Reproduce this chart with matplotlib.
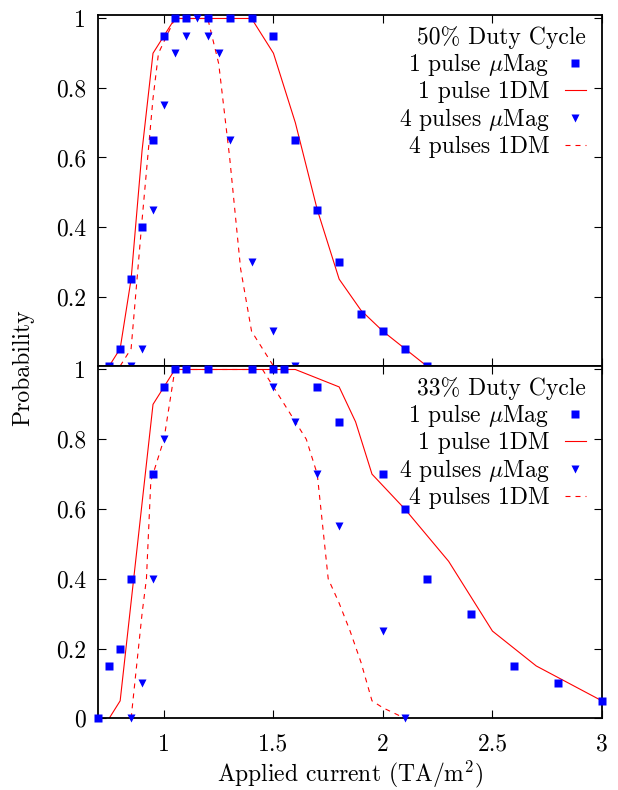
import matplotlib
matplotlib.use("Agg")
import matplotlib.pyplot as plt
from matplotlib.ticker import FuncFormatter, MultipleLocator

plt.rcParams['font.family'] = 'serif'
plt.rcParams['font.serif'] = ['cmr10']
plt.rcParams['mathtext.fontset'] = 'cm'
plt.rcParams['axes.formatter.use_mathtext'] = True

# 50% duty cycle
top_sq_x = [0.75, 0.80, 0.85, 0.90, 0.95, 1.00, 1.05, 1.10, 1.20, 1.30, 1.40, 1.50, 1.60, 1.70, 1.80, 1.90, 2.00, 2.10, 2.20]
top_sq_y = [0.00, 0.05, 0.25, 0.40, 0.65, 0.95, 1.00, 1.00, 1.00, 1.00, 1.00, 0.95, 0.65, 0.45, 0.30, 0.15, 0.10, 0.05, 0.00]
top_line_x = [0.75, 0.80, 0.85, 0.90, 0.95, 1.05, 1.40, 1.50, 1.60, 1.70, 1.80, 1.90, 2.00, 2.10, 2.20]
top_line_y = [0.00, 0.05, 0.25, 0.62, 0.90, 1.00, 1.00, 0.90, 0.70, 0.45, 0.25, 0.16, 0.10, 0.05, 0.00]
top_tri_x = [0.85, 0.90, 0.95, 1.00, 1.05, 1.10, 1.15, 1.20, 1.25, 1.30, 1.40, 1.50, 1.60]
top_tri_y = [0.00, 0.05, 0.45, 0.75, 0.90, 0.95, 1.00, 0.95, 0.90, 0.65, 0.30, 0.10, 0.00]
top_dash_x = [0.80, 0.85, 0.90, 0.95, 0.975, 1.05, 1.20, 1.25, 1.30, 1.35, 1.40, 1.45, 1.50]
top_dash_y = [0.00, 0.05, 0.42, 0.77, 0.90, 1.00, 1.00, 0.87, 0.60, 0.28, 0.10, 0.05, 0.00]

# 33% duty cycle
bot_sq_x = [0.70, 0.75, 0.80, 0.85, 0.95, 1.00, 1.05, 1.10, 1.20, 1.40, 1.50, 1.55, 1.70, 1.80, 2.00, 2.10, 2.20, 2.40, 2.60, 2.80, 3.00]
bot_sq_y = [0.00, 0.15, 0.20, 0.40, 0.70, 0.95, 1.00, 1.00, 1.00, 1.00, 1.00, 1.00, 0.95, 0.85, 0.70, 0.60, 0.40, 0.30, 0.15, 0.10, 0.05]
bot_line_x = [0.75, 0.80, 0.95, 1.05, 1.60, 1.80, 1.875, 1.95, 2.10, 2.30, 2.50, 2.70, 3.00]
bot_line_y = [0.00, 0.05, 0.90, 1.00, 1.00, 0.95, 0.85, 0.70, 0.60, 0.45, 0.25, 0.15, 0.05]
bot_tri_x = [0.85, 0.90, 0.95, 1.00, 1.50, 1.60, 1.70, 1.80, 2.00, 2.10]
bot_tri_y = [0.00, 0.10, 0.40, 0.80, 0.95, 0.85, 0.70, 0.55, 0.25, 0.00]
bot_dash_x = [0.85, 0.90, 0.92, 0.94, 1.00, 1.05, 1.45, 1.50, 1.60, 1.65, 1.70, 1.75, 1.80, 1.85, 1.90, 1.95, 2.00, 2.10]
bot_dash_y = [0.00, 0.30, 0.40, 0.68, 0.80, 1.00, 1.00, 0.95, 0.85, 0.80, 0.70, 0.40, 0.33, 0.25, 0.16, 0.05, 0.03, 0.00]

FS = 17

fig = plt.figure(figsize=(6.18, 7.9), dpi=100)
ax1 = fig.add_axes([0.159, 0.5367, 0.815, 0.4443])
ax2 = fig.add_axes([0.159, 0.0908, 0.815, 0.4459])

fmt = FuncFormatter(lambda v, p: '%g' % round(v, 2))


def draw(ax, sq_x, sq_y, line_x, line_y, tri_x, tri_y, dash_x, dash_y, title):
    ax.plot(sq_x, sq_y, 's', color='#0000ff', ms=5.6, mec='none', clip_on=False,
            label=r'1 pulse $\mu$Mag', zorder=3)
    ax.plot(line_x, line_y, '-', color='#ff0000', lw=0.8, label='1 pulse 1DM', zorder=2)
    ax.plot(tri_x, tri_y, 'v', color='#0000ff', ms=5.5, mec='none', clip_on=False,
            label=r'4 pulses $\mu$Mag', zorder=4)
    ax.plot(dash_x, dash_y, '--', color='#ff0000', lw=0.8, dashes=(4.5, 4.5),
            label='4 pulses 1DM', zorder=2)
    ax.set_xlim(0.7, 3.0)
    ax.set_ylim(0, 1.01)
    ax.xaxis.set_major_locator(MultipleLocator(0.5))
    ax.yaxis.set_major_locator(MultipleLocator(0.2))
    ax.xaxis.set_major_formatter(fmt)
    ax.yaxis.set_major_formatter(fmt)
    ax.tick_params(direction='in', length=6, width=0.8, top=True, right=True,
                   labelsize=FS, pad=9)
    ax.tick_params(axis='x', pad=11)
    for s in ax.spines.values():
        s.set_linewidth(1.3)
    leg = ax.legend(loc='upper right', bbox_to_anchor=(0.992, 1.003), frameon=False,
                    markerfirst=False, title=title, alignment='right',
                    fontsize=FS, title_fontsize=FS,
                    handlelength=0.9, handletextpad=0.65, labelspacing=0.12,
                    borderaxespad=0.2, borderpad=0.3)
    return leg


draw(ax1, top_sq_x, top_sq_y, top_line_x, top_line_y, top_tri_x, top_tri_y,
     top_dash_x, top_dash_y, '50% Duty Cycle')
draw(ax2, bot_sq_x, bot_sq_y, bot_line_x, bot_line_y, bot_tri_x, bot_tri_y,
     bot_dash_x, bot_dash_y, '33% Duty Cycle')

ax1.tick_params(labelbottom=False)
ax1.set_yticks([0.2, 0.4, 0.6, 0.8, 1.0])

ax2.set_xlabel(r'Applied current (TA/m$^2$)', fontsize=FS, labelpad=2)
fig.text(0.037, 0.535, 'Probability', rotation=90, ha='center', va='center', fontsize=FS)

plt.savefig('out.png', dpi=100)
